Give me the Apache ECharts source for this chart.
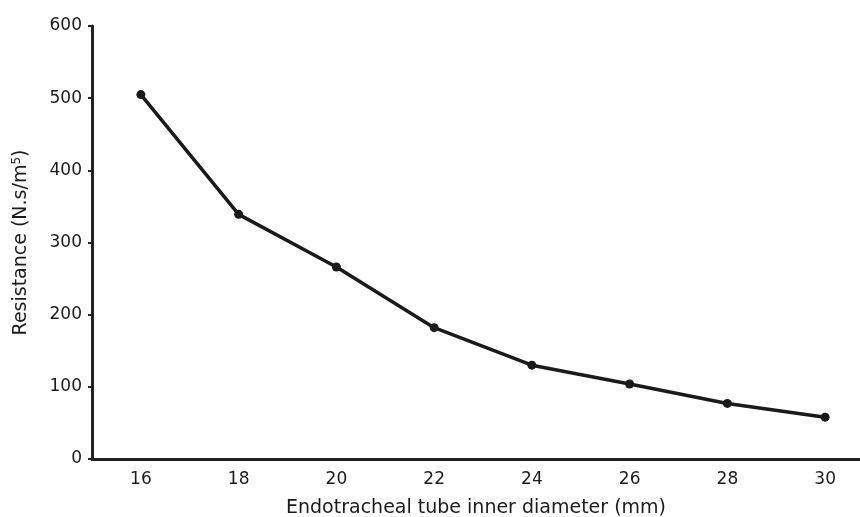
<!DOCTYPE html>
<html>
<head>
<meta charset="utf-8">
<script src="https://cdn.jsdelivr.net/npm/echarts@6/dist/echarts.min.js"></script>
<style>
  html, body { margin: 0; padding: 0; background: #fff; }
  #chart { width: 860px; height: 517px; }
</style>
</head>
<body>
<div id="chart"></div>
<script>
// tube inner diameter (mm)
var diameters = ["16", "18", "20", "22", "24", "26", "28", "30"];
// resistance (N.s/m5)
var resistance = [505, 339, 266, 182, 130, 104, 77, 58];
var yTicks = [0, 100, 200, 300, 400, 500, 600];

var chart = echarts.init(document.getElementById("chart"));
var font = "'DejaVu Sans', sans-serif";

var option = {
  animation: false,
  grid: {
    left: 92,
    right: -14,
    top: 26,
    bottom: 58,
    outerBoundsMode: "none" // keep the grid where I put it, axis runs off the right edge
  },
  xAxis: {
    type: "category",
    data: diameters,
    boundaryGap: true,
    name: "Endotracheal tube inner diameter (mm)",
    nameLocation: "middle",
    nameGap: 40,
    nameTextStyle: { color: "#1a1a1a", fontSize: 19, fontFamily: font, padding: [0, 0, 0, -14] },
    axisLine: { lineStyle: { color: "#222", width: 3 } },
    axisTick: { show: false },
    axisLabel: { color: "#1a1a1a", fontSize: 17, fontFamily: font, margin: 12 }
  },
  yAxis: {
    type: "value",
    min: yTicks[0],
    max: yTicks[yTicks.length - 1],
    interval: 100,
    name: "Resistance (N.s/m{sup|5})",
    nameLocation: "middle",
    nameGap: 60,
    nameTextStyle: {
      color: "#1a1a1a", fontSize: 19, fontFamily: font,
      rich: { sup: { fontSize: 12, verticalAlign: "top", padding: [0, 0, 9, 0], color: "#1a1a1a", fontFamily: font } }
    },
    axisLine: { show: true, lineStyle: { color: "#222", width: 3 } },
    axisTick: { show: true, inside: false, length: 4, lineStyle: { color: "#222", width: 2 } },
    axisLabel: { color: "#1a1a1a", fontSize: 17, fontFamily: font, margin: 10 },
    splitLine: { show: false }
  },
  series: [
    {
      type: "line",
      data: resistance,
      symbol: "circle",
      symbolSize: 9,
      lineStyle: { color: "#1a1a1a", width: 3.5 },
      itemStyle: { color: "#1a1a1a" }
    }
  ]
};
chart.setOption(option);
</script>
</body>
</html>
